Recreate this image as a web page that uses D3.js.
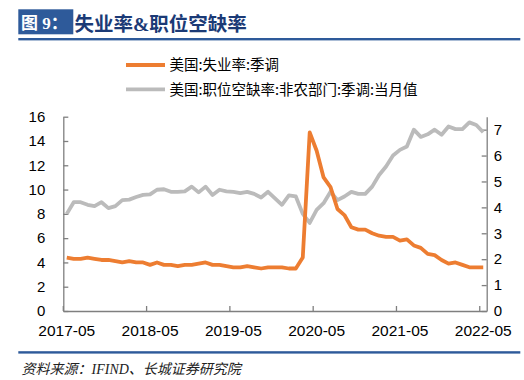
<!DOCTYPE html>
<html><head><meta charset="utf-8">
<script src="https://cdn.jsdelivr.net/npm/d3@7"></script>
<style>
html,body{margin:0;padding:0;background:#fff;}
svg{display:block;}
</style></head>
<body>
<script>
// ---- data ----
const months = [];
for (let i = 0; i < 61; i++) {
  const y = 2017 + Math.floor((4 + i) / 12);
  const m = ((4 + i) % 12) + 1;
  months.push(y + "-" + String(m).padStart(2, "0"));
}
const tickMonths = ["2017-05","2018-05","2019-05","2020-05","2021-05","2022-05"];
const unemployment = [
  4.4,4.3,4.3,4.4,4.3,4.2,4.2,4.1,
  4.0,4.1,4.0,4.0,3.8,4.0,3.8,3.8,3.7,3.8,3.8,3.9,
  4.0,3.8,3.8,3.7,3.6,3.6,3.7,3.6,3.5,3.6,3.6,3.6,
  3.5,3.5,4.4,14.7,13.2,11.0,10.2,8.4,7.9,6.9,6.7,6.7,
  6.4,6.2,6.1,6.1,5.8,5.9,5.4,5.2,4.7,4.6,4.2,3.9,
  4.0,3.8,3.6,3.6,3.6
];
const jobOpenings = [
  3.75,4.2,4.2,4.1,4.05,4.2,3.97,4.05,
  4.28,4.3,4.4,4.48,4.5,4.68,4.7,4.6,4.6,4.62,4.8,4.58,
  4.8,4.48,4.68,4.62,4.6,4.55,4.6,4.52,4.38,4.6,4.35,4.1,
  4.46,4.42,3.75,3.4,3.9,4.16,4.6,4.28,4.42,4.6,4.52,4.52,
  4.8,5.25,5.58,6.0,6.22,6.35,7.0,6.72,6.82,7.0,6.8,7.12,
  7.02,7.02,7.28,7.18,6.9
];
const leftTicks = [0,2,4,6,8,10,12,14,16];
const rightTicks = [0,1,2,3,4,5,6,7];
const seriesNames = ["美国:失业率:季调", "美国:职位空缺率:非农部门:季调:当月值"];
const seriesColors = ["#ED7D31", "#BBBBBB"];

// ---- layout ----
const W = 524, H = 380;
const L = 63.3, R = 486.7, T = 116.7, B = 311;
const svg = d3.select("body").append("svg").attr("width", W).attr("height", H);

// title bar
const blue = "#2E5A9A";
svg.append("rect").attr("x", 18.3).attr("y", 9.3).attr("width", 55).attr("height", 25).attr("fill", blue);
svg.append("text").attr("x", 21).attr("y", 28.5)
  .attr("font-family", "'Liberation Serif', 'Noto Sans CJK SC', serif").attr("font-weight", "bold")
  .attr("font-size", 17).attr("fill", "#fff").text("图 9：");
svg.append("text").attr("x", 74.5).attr("y", 30.5)
  .attr("font-family", "'Liberation Serif', 'Noto Sans CJK SC', serif").attr("font-weight", "bold")
  .attr("font-size", 19.5).attr("fill", "#1B3A76").text("失业率&职位空缺率");
svg.append("rect").attr("x", 18.3).attr("y", 38).attr("width", 502).attr("height", 2.4).attr("fill", blue);

// footer
svg.append("rect").attr("x", 18.3).attr("y", 351.2).attr("width", 502).attr("height", 2.4).attr("fill", blue);
svg.append("text").attr("x", 21.5).attr("y", 373.5)
  .attr("font-family", "'Liberation Serif', 'Noto Sans CJK SC', serif").attr("font-style", "italic")
  .attr("font-size", 14).attr("fill", "#222").text("资料来源：IFIND、长城证券研究院");

// scales
const x = d3.scaleBand().domain(months).range([L, R]).padding(0);
const bw = x.bandwidth();
const yL = d3.scaleLinear().domain([0, 16]).range([B, T]);
const yR = d3.scaleLinear().domain([0, 7.5]).range([B, T]);

const axisColor = "#7F7F7F";
function styleAxis(g, fs) {
  g.selectAll(".domain").attr("stroke", axisColor).attr("stroke-width", 1.3);
  g.selectAll(".tick line").attr("stroke", axisColor).attr("stroke-width", 1.3);
  g.selectAll(".tick text").attr("fill", "#000").attr("font-size", fs)
    .attr("font-family", "'Liberation Sans', Arial, sans-serif");
}

// left axis
const gL = svg.append("g").attr("transform", `translate(${L},0)`)
  .call(d3.axisLeft(yL).tickValues(leftTicks).tickSizeInner(-5).tickSizeOuter(0).tickPadding(18));
styleAxis(gL, 15);
// right axis
const gR = svg.append("g").attr("transform", `translate(${R},0)`)
  .call(d3.axisRight(yR).tickValues(rightTicks).tickSizeInner(-5).tickSizeOuter(0).tickPadding(7));
styleAxis(gR, 15);
// bottom axis (labels at band centres)
const gB = svg.append("g").attr("transform", `translate(0,${B})`)
  .call(d3.axisBottom(x).tickValues(tickMonths).tickSize(0).tickSizeOuter(0).tickPadding(14));
styleAxis(gB, 15.5);
// tick marks at band edges, pointing inward
gB.selectAll(".edge-tick").data(tickMonths).enter().append("line")
  .attr("x1", d => x(d)).attr("x2", d => x(d)).attr("y1", 0).attr("y2", -5)
  .attr("stroke", axisColor).attr("stroke-width", 1.3);

// lines
const lineR = d3.line().x((d, i) => x(months[i]) + bw / 2).y(d => yR(d)).curve(d3.curveLinear);
const lineL = d3.line().x((d, i) => x(months[i]) + bw / 2).y(d => yL(d)).curve(d3.curveLinear);
svg.append("path").datum(jobOpenings).attr("d", lineR).attr("fill", "none")
  .attr("stroke", seriesColors[1]).attr("stroke-width", 3.8).attr("stroke-linejoin", "round");
svg.append("path").datum(unemployment).attr("d", lineL).attr("fill", "none")
  .attr("stroke", seriesColors[0]).attr("stroke-width", 3.8).attr("stroke-linejoin", "round");

// legend
const legY = [65, 89.3];
seriesNames.forEach((name, i) => {
  svg.append("line").attr("x1", 126).attr("x2", 165).attr("y1", legY[i]).attr("y2", legY[i])
    .attr("stroke", seriesColors[i]).attr("stroke-width", 3.8);
  svg.append("text").attr("x", 169.5).attr("y", legY[i]).attr("dy", "0.36em")
    .attr("font-family", "'Noto Sans CJK SC', sans-serif").attr("font-size", 14.5)
    .attr("fill", "#000").text(name);
});
</script>
</body></html>
